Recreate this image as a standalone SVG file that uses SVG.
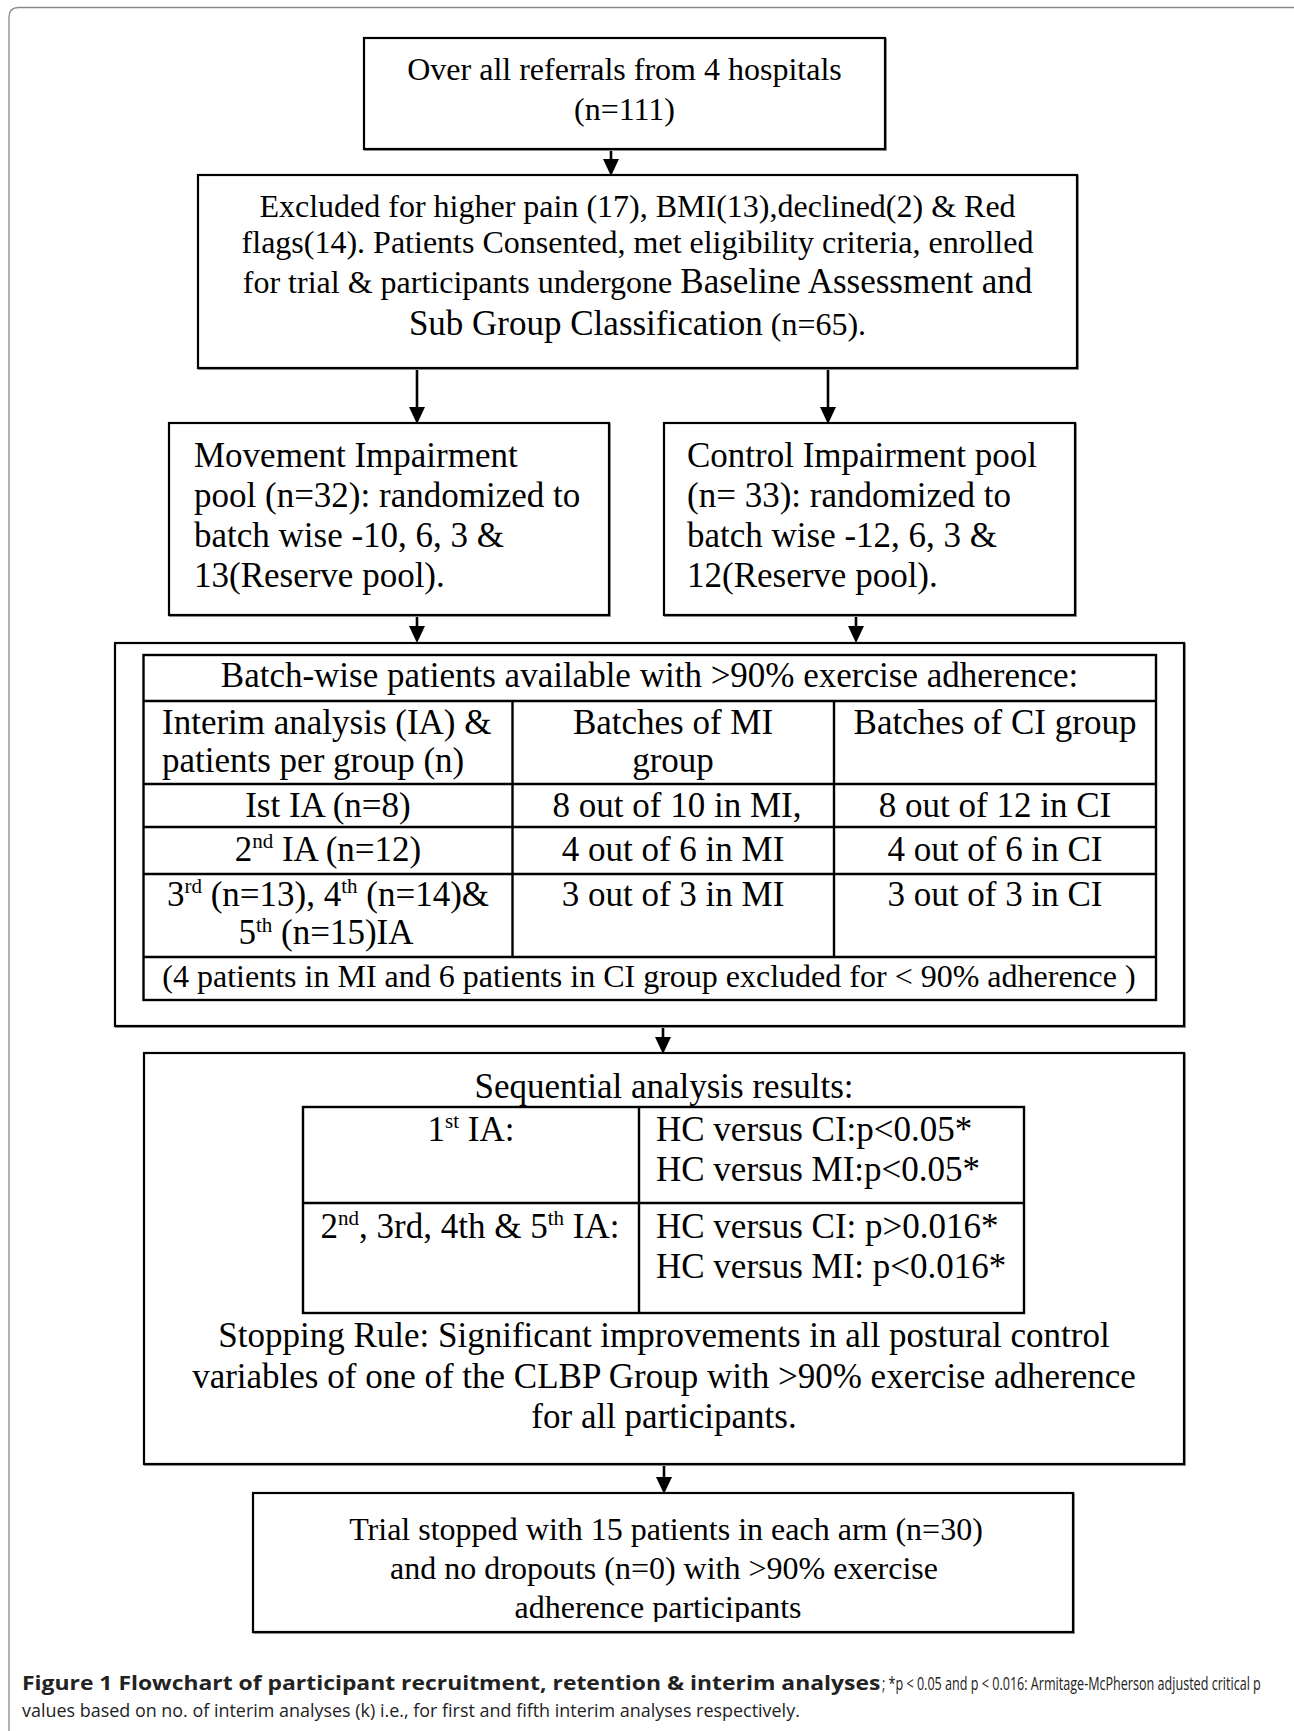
<svg xmlns="http://www.w3.org/2000/svg" width="1294" height="1731" viewBox="0 0 1294 1731">
<defs>
<style>
.box{fill:#fff;stroke:#000;stroke-width:2.2}
.shadow{fill:none;stroke:#9a9a9a;stroke-width:2}
.grid{fill:none;stroke:#000;stroke-width:2.4}
.t{font-family:"Liberation Serif","Times New Roman",serif;fill:#000}
.s32{font-size:32px}
.s35{font-size:35px}
.c{text-anchor:middle}
.conn{stroke:#000;stroke-width:2.6;fill:none}
.cap{font-family:"Open Sans","Liberation Sans",sans-serif;font-size:19px;fill:#222}
</style>
<marker id="ah" viewBox="0 0 17 16" refX="8" refY="8" markerWidth="17" markerHeight="16" markerUnits="userSpaceOnUse" orient="auto">
<path d="M0,0 L17,8 L0,16 z" fill="#000"/>
</marker>
<clipPath id="clip7"><rect x="253" y="1493" width="820" height="129"/></clipPath>
</defs>
<rect width="1294" height="1731" fill="#fff"/>
<path d="M9,1731 V17 Q9,7.5 18.5,7.5 H1294" fill="none" stroke="#8a8a8a" stroke-width="1.3"/>

<g id="connectors">
<line class="conn" x1="611" y1="149" x2="611" y2="167" marker-end="url(#ah)"/>
<line class="conn" x1="417" y1="368" x2="417" y2="415" marker-end="url(#ah)"/>
<line class="conn" x1="828" y1="368" x2="828" y2="415" marker-end="url(#ah)"/>
<line class="conn" x1="417" y1="615" x2="417" y2="634" marker-end="url(#ah)"/>
<line class="conn" x1="856" y1="615" x2="856" y2="634" marker-end="url(#ah)"/>
<line class="conn" x1="663" y1="1026" x2="663" y2="1045" marker-end="url(#ah)"/>
<line class="conn" x1="664" y1="1464" x2="664" y2="1485" marker-end="url(#ah)"/>
</g>

<g id="n1">
<rect class="shadow" x="365" y="39" width="521" height="111"/>
<rect class="box" x="364" y="38" width="521" height="111"/>
<text class="t s32 c" x="624.5" y="80">Over all referrals from 4 hospitals</text>
<text class="t s32 c" x="624.5" y="120">(n=111)</text>
</g>

<g id="n2">
<rect class="shadow" x="199" y="176" width="879" height="193"/>
<rect class="box" x="198" y="175" width="879" height="193"/>
<text class="t s32 c" x="637.5" y="217">Excluded for higher pain (17), BMI(13),declined(2) &amp; Red</text>
<text class="t s32 c" x="637.5" y="253">flags(14). Patients Consented, met eligibility criteria, enrolled</text>
<text class="t s32 c" x="637.5" y="293">for trial &amp; participants undergone <tspan class="s35">Baseline Assessment and</tspan></text>
<text class="t s35 c" x="637.5" y="335">Sub Group Classification<tspan class="s32"> (n=65).</tspan></text>
</g>

<g id="n3">
<rect class="shadow" x="170" y="424" width="440" height="192"/>
<rect class="box" x="169" y="423" width="440" height="192"/>
<text class="t s35" x="194" y="467">Movement Impairment</text>
<text class="t s35" x="194" y="507">pool (n=32): randomized to</text>
<text class="t s35" x="194" y="547">batch wise -10, 6, 3 &amp;</text>
<text class="t s35" x="194" y="587">13(Reserve pool).</text>
</g>

<g id="n4">
<rect class="shadow" x="665" y="424" width="411" height="192"/>
<rect class="box" x="664" y="423" width="411" height="192"/>
<text class="t s35" x="687" y="467">Control Impairment pool</text>
<text class="t s35" x="687" y="507">(n= 33): randomized to</text>
<text class="t s35" x="687" y="547">batch wise -12, 6, 3 &amp;</text>
<text class="t s35" x="687" y="587">12(Reserve pool).</text>
</g>

<g id="n5">
<rect class="shadow" x="116" y="644" width="1069" height="383"/>
<rect class="box" x="115" y="643" width="1069" height="383"/>
<rect class="grid" x="143.5" y="655" width="1012.5" height="345"/>
<path class="grid" d="M143.5,701 H1156 M143.5,784 H1156 M143.5,827 H1156 M143.5,874 H1156 M143.5,957 H1156 M512.5,701 V957 M834,701 V957"/>
<text class="t s35 c" x="649.5" y="687">Batch-wise patients available with &gt;90% exercise adherence:</text>
<text class="t s35" x="162" y="734">Interim analysis (IA) &amp;</text>
<text class="t s35" x="162" y="772">patients per group (n)</text>
<text class="t s35 c" x="673" y="734">Batches of MI</text>
<text class="t s35 c" x="673" y="772">group</text>
<text class="t s35 c" x="995" y="734">Batches of CI group</text>
<text class="t s35 c" x="328" y="817">Ist IA (n=8)</text>
<text class="t s35 c" x="677" y="817">8 out of 10 in MI,</text>
<text class="t s35 c" x="995" y="817">8 out of 12 in CI</text>
<text class="t s35 c" x="328" y="861">2<tspan font-size="21" dy="-13">nd</tspan><tspan dy="13"> IA (n=12)</tspan></text>
<text class="t s35 c" x="673" y="861">4 out of 6 in MI</text>
<text class="t s35 c" x="995" y="861">4 out of 6 in CI</text>
<text class="t s35 c" x="328" y="906">3<tspan font-size="21" dy="-13">rd</tspan><tspan dy="13"> (n=13), 4</tspan><tspan font-size="21" dy="-13">th</tspan><tspan dy="13"> (n=14)&amp;</tspan></text>
<text class="t s35 c" x="326" y="944">5<tspan font-size="21" dy="-12">th</tspan><tspan dy="12"> (n=15)IA</tspan></text>
<text class="t s35 c" x="673" y="906">3 out of 3 in MI</text>
<text class="t s35 c" x="995" y="906">3 out of 3 in CI</text>
<text class="t s32 c" x="649" y="987">(4 patients in MI and 6 patients in CI group excluded for &lt; 90% adherence )</text>
</g>

<g id="n6">
<rect class="shadow" x="145" y="1054" width="1040" height="411"/>
<rect class="box" x="144" y="1053" width="1040" height="411"/>
<text class="t s35 c" x="664" y="1098">Sequential analysis results:</text>
<rect class="grid" x="303" y="1107" width="721" height="206"/>
<path class="grid" d="M303,1203 H1024 M639,1107 V1313"/>
<text class="t s35 c" x="471" y="1141">1<tspan font-size="21" dy="-13">st</tspan><tspan dy="13"> IA:</tspan></text>
<text class="t s35" x="656" y="1141">HC versus CI:p&lt;0.05*</text>
<text class="t s35" x="656" y="1181">HC versus MI:p&lt;0.05*</text>
<text class="t s35 c" x="470" y="1238">2<tspan font-size="21" dy="-13">nd</tspan><tspan dy="13">, 3rd, 4th &amp; 5</tspan><tspan font-size="21" dy="-13">th</tspan><tspan dy="13"> IA:</tspan></text>
<text class="t s35" x="656" y="1238">HC versus CI: p&gt;0.016*</text>
<text class="t s35" x="656" y="1278">HC versus MI: p&lt;0.016*</text>
<text class="t s35 c" x="664" y="1347">Stopping Rule: Significant improvements in all postural control</text>
<text class="t s35 c" x="664" y="1388">variables of one of the CLBP Group with &gt;90% exercise adherence</text>
<text class="t s35 c" x="664" y="1428">for all participants.</text>
</g>

<g id="n7">
<rect class="shadow" x="254" y="1494" width="820" height="139"/>
<rect class="box" x="253" y="1493" width="820" height="139"/>
<g clip-path="url(#clip7)">
<text class="t s32 c" x="666" y="1540">Trial stopped with 15 patients in each arm (n=30)</text>
<text class="t s32 c" x="664" y="1579">and no dropouts (n=0) with &gt;90% exercise</text>
<text class="t s32 c" x="658" y="1618">adherence participants</text>
</g>
</g>

<g id="caption">
<text class="cap" transform="translate(22,1690) scale(0.86,1)" font-size="20" font-weight="bold" fill="#111" textLength="998" lengthAdjust="spacingAndGlyphs">Figure 1 Flowchart of participant recruitment, retention &amp; interim analyses</text>
<text class="cap" transform="translate(882,1690) scale(0.62,1)" textLength="611" lengthAdjust="spacingAndGlyphs">; *p &lt; 0.05 and p &lt; 0.016: Armitage-McPherson adjusted critical p</text>
<text class="cap" transform="translate(22,1717) scale(0.84,1)" textLength="926" lengthAdjust="spacingAndGlyphs">values based on no. of interim analyses (k) i.e., for first and fifth interim analyses respectively.</text>
</g>
</svg>
